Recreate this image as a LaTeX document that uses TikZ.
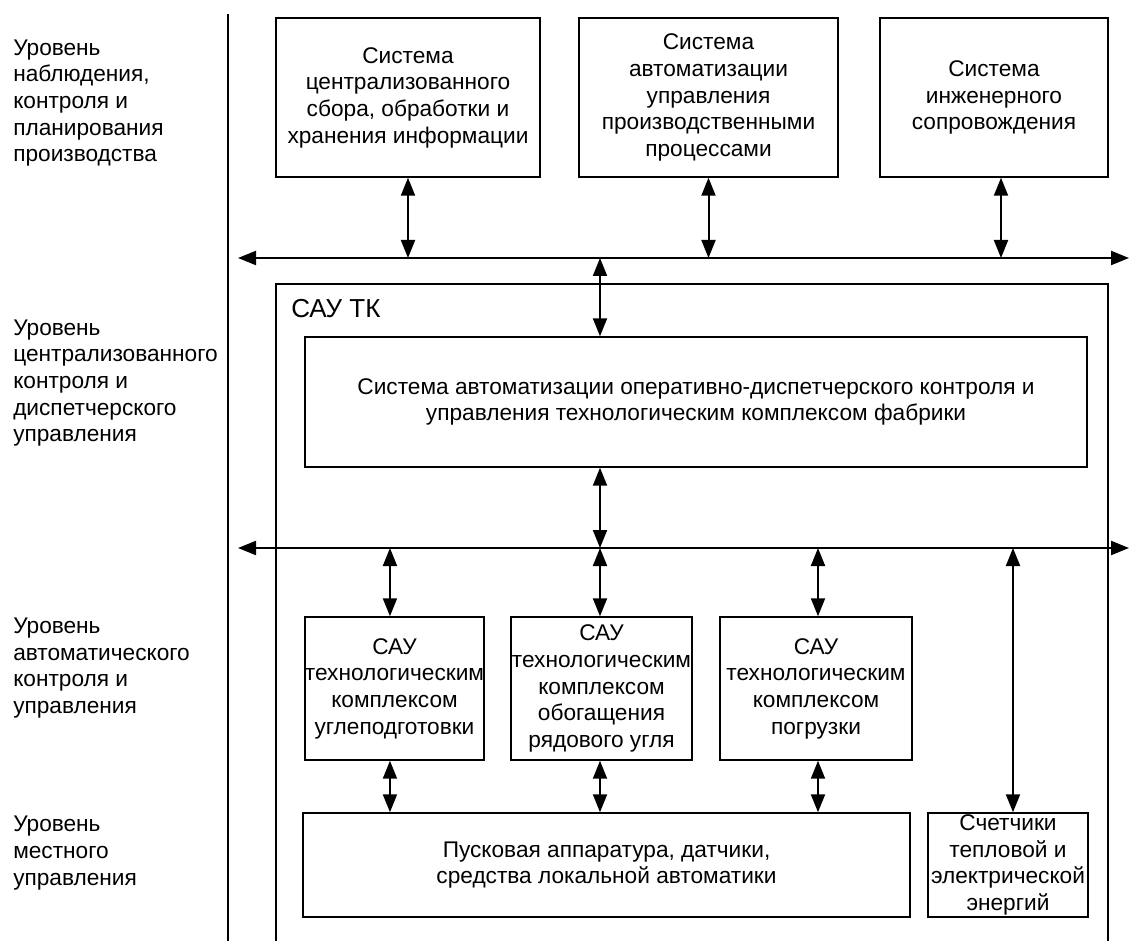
\documentclass[tikz,border=0pt]{standalone}
\usepackage{fontspec}
\setmainfont{Liberation Sans}
\usetikzlibrary{arrows.meta}
\begin{document}
\begin{tikzpicture}[x=0.75pt,y=-0.75pt,
  txt/.style={font=\fontsize{17}{20}\selectfont},
  box/.style={draw, line width=1.1pt, align=center, inner sep=0pt, txt},
  lvl/.style={anchor=west, align=left, inner sep=0pt, txt},
  tip/.tip={Triangle[length=13.5pt,width=10.5pt]},
  link/.style={line width=1.5pt, tip-tip},
  bus/.style={line width=1.6pt, tip-tip}
]
\useasboundingbox (0,0) rectangle (1129,941);

% level captions and the dividing line
\node[lvl] (l1) at (13,103) {Уровень\\наблюдения,\\контроля и\\планирования\\производства};
\node[lvl] (l2) at (13,383) {Уровень\\централизованного\\контроля и\\диспетчерского\\управления};
\node[lvl] (l3) at (13,668) {Уровень\\автоматического\\контроля и\\управления};
\node[lvl] (l4) at (13,853) {Уровень\\местного\\управления};
\coordinate (divtop) at (228,14);
\coordinate (divbot) at (228,941);
\draw[line width=1.1pt] (divtop) -- (divbot);

% upper level systems
\node[box, minimum width=198pt, minimum height=119.25pt] (s1) at (408,97.5)
  {Система\\централизованного\\сбора, обработки и\\хранения информации};
\node[box, minimum width=194.25pt, minimum height=119.25pt] (s2) at (708.5,97.5)
  {Система\\автоматизации\\управления\\производственными\\процессами};
\node[box, minimum width=171pt, minimum height=119.25pt] (s3) at (994,97.5)
  {Система\\инженерного\\сопровождения};

% buses
\coordinate (b1l) at (238,258);
\coordinate (b1r) at (1129,258);
\coordinate (b2l) at (238,548);
\coordinate (b2r) at (1129,548);
\draw[bus] (b1l) -- (b1r);
\draw[bus] (b2l) -- (b2r);

% SAU TK frame
\coordinate (fbl) at (276,941);
\coordinate (ftl) at (276,284);
\coordinate (ftr) at (1108,284);
\coordinate (fbr) at (1108,941);
\draw[line width=1.1pt] (fbl) -- (ftl) -- (ftr) -- (fbr);
\node[anchor=base west, inner sep=0pt, font=\fontsize{19.5}{24}\selectfont] (sautk) at (291,318) {САУ ТК};

% dispatch system
\node[box, minimum width=586.5pt, minimum height=97.5pt] (disp) at (696,402)
  {Система автоматизации оперативно-диспетчерского контроля и\\управления технологическим комплексом фабрики};

% automatic control level
\node[box, minimum width=134.25pt, minimum height=107.25pt] (ka) at (394.5,688.5)
  {САУ\\технологическим\\комплексом\\углеподготовки};
\node[box, minimum width=135.75pt, minimum height=107.25pt] (kb) at (601.5,688.5)
  {САУ\\технологическим\\комплексом\\обогащения\\рядового угля};
\node[box, minimum width=144pt, minimum height=107.25pt] (kc) at (816,688.5)
  {САУ\\технологическим\\комплексом\\погрузки};

% local level
\node[box, minimum width=455.25pt, minimum height=78pt] (loc) at (606.5,865)
  {Пусковая аппаратура, датчики,\\средства локальной автоматики};
\node[box, minimum width=120pt, minimum height=78pt] (cnt) at (1008,865)
  {Счетчики\\тепловой и\\электрической\\энергий};

% links to the upper bus
\draw[link] (s1.south) -- (s1.south |- b1l);
\draw[link] (s2.south) -- (s2.south |- b1l);
\draw[link] ([xshift=5.25pt]s3.south) -- ([xshift=5.25pt]s3.south |- b1l);
\draw[link] (disp.north -| 600,0) -- (b1l -| 600,0);

% links to the lower bus
\draw[link] (disp.south -| 600,0) -- (b2l -| 600,0);
\draw[link] ([xshift=-3.4pt]ka.north) -- ([xshift=-3.4pt]ka.north |- b2l);
\draw[link] (kb.north -| 600,0) -- (b2l -| 600,0);
\draw[link] ([xshift=1.5pt]kc.north) -- ([xshift=1.5pt]kc.north |- b2l);
\draw[link] ([xshift=3.75pt]cnt.north) -- ([xshift=3.75pt]cnt.north |- b2l);

% links to the local level
\draw[link] ([xshift=-3.4pt]ka.south) -- ([xshift=-3.4pt]ka.south |- loc.north);
\draw[link] (kb.south -| 600,0) -- (loc.north -| 600,0);
\draw[link] ([xshift=1.5pt]kc.south) -- ([xshift=1.5pt]kc.south |- loc.north);
\end{tikzpicture}
\end{document}
